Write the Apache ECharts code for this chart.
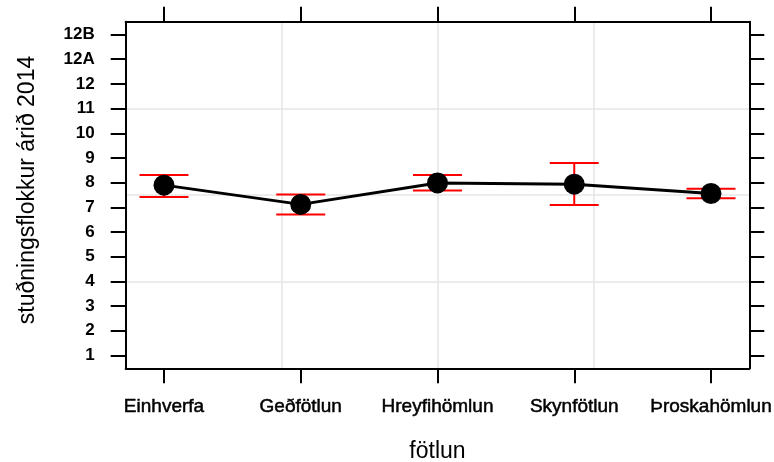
<!DOCTYPE html>
<html>
<head>
<meta charset="utf-8">
<script src="https://cdn.jsdelivr.net/npm/echarts@6/dist/echarts.min.js"></script>
<style>
html,body{margin:0;padding:0;background:#fff;}
#chart{width:774px;height:462px;}
</style>
</head>
<body>
<div id="chart"></div>
<script>
// Data
const categories = ['Einhverfa', 'Geðfötlun', 'Hreyfihömlun', 'Skynfötlun', 'Þroskahömlun'];
const yTickLabels = ['1','2','3','4','5','6','7','8','9','10','11','12','12A','12B'];
const meanValues = [7.90, 7.12, 7.99, 7.94, 7.56];
const lowerValues = [7.42, 6.71, 7.68, 7.09, 7.37];
const upperValues = [8.31, 7.52, 8.31, 8.80, 7.75];

const xPositions = categories.map((c, i) => i + 1);
const yPositions = yTickLabels.map((c, i) => i + 1);

const FONT = 'Liberation Sans, Arial, Helvetica, sans-serif';
const X_MIN = 0.72, X_MAX = 5.28;
const Y_MIN = 0.48, Y_MAX = 14.52;

const lineData = xPositions.map((x, i) => [x, meanValues[i]]);
const errData = xPositions.map((x, i) => [x, lowerValues[i], upperValues[i]]);

const axisLineStyle = { color: '#000', width: 2 };
const tickStyle = { color: '#000', width: 2 };

const chart = echarts.init(document.getElementById('chart'), null, { renderer: 'canvas' });

const option = {
  backgroundColor: '#fff',
  animation: false,
  grid: { left: 125.7, right: 24.7, top: 21.7, bottom: 93.7, containLabel: false, outerBoundsMode: 'none' },
  xAxis: [
    { // grid lines (4 equal divisions)
      type: 'value', min: 0, max: 4, interval: 1, position: 'bottom',
      axisLine: { show: false }, axisTick: { show: false }, axisLabel: { show: false },
      splitLine: { show: true, showMinLine: false, showMaxLine: false, lineStyle: { color: '#e6e6e6', width: 1.6 } }
    },
    { // main bottom axis
      type: 'value', min: X_MIN, max: X_MAX, position: 'bottom',
      axisLine: { show: true, onZero: false, lineStyle: axisLineStyle },
      axisTick: { show: true, inside: false, length: 15, customValues: xPositions, lineStyle: tickStyle },
      axisLabel: {
        show: true, customValues: xPositions, margin: 29,
        formatter: v => categories[Math.round(v) - 1] || '',
        color: '#000', fontFamily: FONT, fontSize: 19,
        textBorderColor: '#000', textBorderWidth: 0.5
      },
      splitLine: { show: false },
      name: 'fötlun', nameLocation: 'middle', nameGap: 72,
      nameTextStyle: { color: '#000', fontFamily: FONT, fontSize: 23 }
    },
    { // top ticks
      type: 'value', min: X_MIN, max: X_MAX, position: 'top',
      axisLine: { show: true, onZero: false, lineStyle: axisLineStyle },
      axisTick: { show: true, inside: false, length: 15, customValues: xPositions, lineStyle: tickStyle },
      axisLabel: { show: false },
      splitLine: { show: false }
    }
  ],
  yAxis: [
    {
      type: 'value', min: 0, max: 4, interval: 1, position: 'left',
      axisLine: { show: false }, axisTick: { show: false }, axisLabel: { show: false },
      splitLine: { show: true, showMinLine: false, showMaxLine: false, lineStyle: { color: '#e6e6e6', width: 1.6 } }
    },
    {
      type: 'value', min: Y_MIN, max: Y_MAX, position: 'left',
      axisLine: { show: true, onZero: false, lineStyle: axisLineStyle },
      axisTick: { show: true, inside: false, length: 15, customValues: yPositions, lineStyle: tickStyle },
      axisLabel: {
        show: true, customValues: yPositions, margin: 31,
        formatter: v => yTickLabels[Math.round(v) - 1] || '',
        color: '#000', fontFamily: FONT, fontSize: 17, fontWeight: 'bold'
      },
      splitLine: { show: false },
      name: 'stuðningsflokkur árið 2014', nameLocation: 'middle', nameGap: 87, nameRotate: 90,
      nameTextStyle: { color: '#000', fontFamily: FONT, fontSize: 23, padding: [0, 0, 0, 10] }
    },
    {
      type: 'value', min: Y_MIN, max: Y_MAX, position: 'right',
      axisLine: { show: true, onZero: false, lineStyle: axisLineStyle },
      axisTick: { show: true, inside: false, length: 15, customValues: yPositions, lineStyle: tickStyle },
      axisLabel: { show: false },
      splitLine: { show: false }
    }
  ],
  series: [
    {
      type: 'custom',
      xAxisIndex: 1, yAxisIndex: 1,
      data: errData,
      z: 2,
      renderItem: function (params, api) {
        const x = api.value(0);
        const lo = api.coord([x, api.value(1)]);
        const hi = api.coord([x, api.value(2)]);
        const hw = 24.5;
        const style = { stroke: '#ff0000', lineWidth: 2 };
        return {
          type: 'group',
          children: [
            { type: 'line', shape: { x1: lo[0], y1: lo[1], x2: hi[0], y2: hi[1] }, style: style },
            { type: 'line', shape: { x1: lo[0] - hw, y1: lo[1], x2: lo[0] + hw, y2: lo[1] }, style: style },
            { type: 'line', shape: { x1: hi[0] - hw, y1: hi[1], x2: hi[0] + hw, y2: hi[1] }, style: style }
          ]
        };
      }
    },
    {
      type: 'line',
      xAxisIndex: 1, yAxisIndex: 1,
      data: lineData,
      z: 3,
      symbol: 'circle', symbolSize: 21, showAllSymbol: true,
      itemStyle: { color: '#000' },
      lineStyle: { color: '#000', width: 3 }
    }
  ]
};
chart.setOption(option);
</script>
</body>
</html>
